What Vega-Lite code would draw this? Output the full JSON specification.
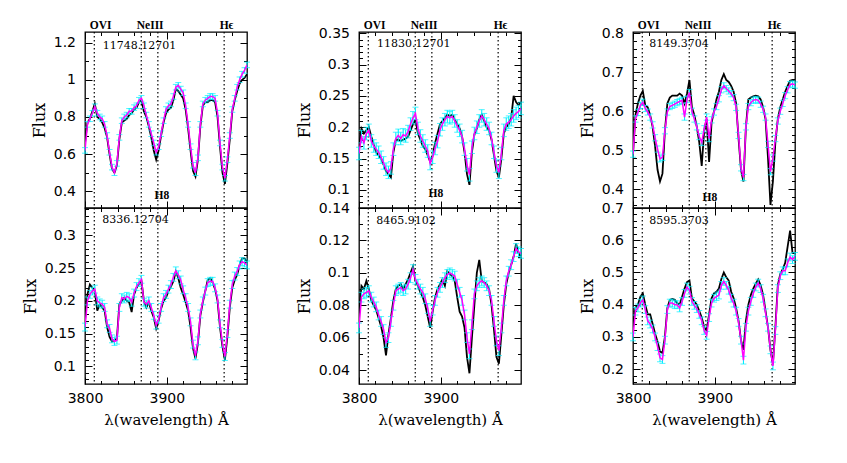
{
"$schema": "https://vega.github.io/schema/vega-lite/v6.json",
"background": "white",
"padding": {"left": 21, "top": 18, "right": 2, "bottom": 2},
"config": {
 "view": {"stroke": "black", "strokeWidth": 1.3},
 "axis": {"domain": false, "grid": false, "labelFlush": false, "labelOverlap": false, "tickColor": "black", "tickWidth": 1, "labelColor": "black", "labelFont": "DejaVu Sans", "labelFontSize": 14, "titleColor": "black", "titleFont": "DejaVu Serif", "titleFontSize": 16, "titleFontWeight": "normal"},
 "errorbar": {"ticks": {"size": 6, "strokeWidth": 1.2}, "rule": {"strokeWidth": 1.1}}
},
"datasets": {
 "lines": [{"w": 3811.35}, {"w": 3868.76}, {"w": 3889.05}, {"w": 3970.07}],
 "p1": [
{"w":3800,"m":0.62,"o":0.66,"e":0.015},{"w":3803,"m":0.76,"o":0.77,"e":0.015},{"w":3806,"m":0.79,"o":0.79,"e":0.015},{"w":3809,"m":0.82,"o":0.83,"e":0.015},{"w":3812,"m":0.855,"o":0.87,"e":0.015},{"w":3815,"m":0.82,"o":0.80,"e":0.015},{"w":3818,"m":0.80,"o":0.79,"e":0.015},{"w":3821,"m":0.79,"o":0.77,"e":0.015},{"w":3824,"m":0.76,"o":0.74,"e":0.015},{"w":3827,"m":0.70,"o":0.69,"e":0.015},{"w":3830,"m":0.61,"o":0.60,"e":0.015},{"w":3833,"m":0.53,"o":0.52,"e":0.015},{"w":3836,"m":0.50,"o":0.50,"e":0.015},{"w":3839,"m":0.55,"o":0.54,"e":0.015},{"w":3842,"m":0.69,"o":0.68,"e":0.015},{"w":3845,"m":0.78,"o":0.77,"e":0.015},{"w":3848,"m":0.80,"o":0.78,"e":0.015},{"w":3851,"m":0.81,"o":0.79,"e":0.015},{"w":3854,"m":0.83,"o":0.81,"e":0.015},{"w":3857,"m":0.83,"o":0.82,"e":0.015},{"w":3860,"m":0.85,"o":0.84,"e":0.015},{"w":3863,"m":0.86,"o":0.85,"e":0.015},{"w":3866,"m":0.89,"o":0.88,"e":0.015},{"w":3869,"m":0.90,"o":0.89,"e":0.015},{"w":3872,"m":0.86,"o":0.83,"e":0.015},{"w":3875,"m":0.81,"o":0.80,"e":0.015},{"w":3878,"m":0.76,"o":0.75,"e":0.015},{"w":3881,"m":0.71,"o":0.69,"e":0.015},{"w":3884,"m":0.66,"o":0.62,"e":0.015},{"w":3887,"m":0.61,"o":0.57,"e":0.015},{"w":3890,"m":0.64,"o":0.62,"e":0.015},{"w":3893,"m":0.71,"o":0.70,"e":0.015},{"w":3896,"m":0.78,"o":0.77,"e":0.015},{"w":3899,"m":0.84,"o":0.82,"e":0.015},{"w":3902,"m":0.86,"o":0.84,"e":0.015},{"w":3905,"m":0.87,"o":0.85,"e":0.015},{"w":3908,"m":0.91,"o":0.89,"e":0.015},{"w":3911,"m":0.96,"o":0.95,"e":0.015},{"w":3914,"m":0.97,"o":0.94,"e":0.015},{"w":3917,"m":0.95,"o":0.92,"e":0.015},{"w":3920,"m":0.93,"o":0.90,"e":0.015},{"w":3923,"m":0.86,"o":0.84,"e":0.015},{"w":3926,"m":0.76,"o":0.74,"e":0.015},{"w":3929,"m":0.64,"o":0.62,"e":0.015},{"w":3932,"m":0.54,"o":0.51,"e":0.015},{"w":3935,"m":0.50,"o":0.48,"e":0.015},{"w":3938,"m":0.58,"o":0.57,"e":0.015},{"w":3941,"m":0.76,"o":0.75,"e":0.015},{"w":3944,"m":0.87,"o":0.86,"e":0.015},{"w":3947,"m":0.89,"o":0.88,"e":0.015},{"w":3950,"m":0.90,"o":0.88,"e":0.015},{"w":3953,"m":0.91,"o":0.89,"e":0.015},{"w":3956,"m":0.91,"o":0.89,"e":0.015},{"w":3959,"m":0.90,"o":0.88,"e":0.015},{"w":3962,"m":0.82,"o":0.80,"e":0.015},{"w":3965,"m":0.66,"o":0.64,"e":0.015},{"w":3968,"m":0.53,"o":0.50,"e":0.015},{"w":3971,"m":0.47,"o":0.44,"e":0.015},{"w":3974,"m":0.57,"o":0.55,"e":0.015},{"w":3977,"m":0.70,"o":0.68,"e":0.015},{"w":3980,"m":0.84,"o":0.83,"e":0.015},{"w":3983,"m":0.90,"o":0.89,"e":0.015},{"w":3986,"m":0.96,"o":0.94,"e":0.015},{"w":3989,"m":1.00,"o":0.98,"e":0.015},{"w":3992,"m":1.03,"o":1.00,"e":0.015},{"w":3995,"m":1.05,"o":1.01,"e":0.015},{"w":3998,"m":1.08,"o":1.03,"e":0.015}
 ],
 "p4": [
{"w":3800,"m":0.16,"o":0.17,"e":0.006},{"w":3803,"m":0.20,"o":0.21,"e":0.006},{"w":3806,"m":0.21,"o":0.225,"e":0.006},{"w":3809,"m":0.215,"o":0.22,"e":0.006},{"w":3812,"m":0.218,"o":0.215,"e":0.006},{"w":3815,"m":0.20,"o":0.185,"e":0.006},{"w":3818,"m":0.197,"o":0.195,"e":0.006},{"w":3821,"m":0.195,"o":0.19,"e":0.006},{"w":3824,"m":0.19,"o":0.185,"e":0.006},{"w":3827,"m":0.165,"o":0.16,"e":0.006},{"w":3830,"m":0.158,"o":0.145,"e":0.006},{"w":3833,"m":0.142,"o":0.138,"e":0.006},{"w":3836,"m":0.138,"o":0.14,"e":0.006},{"w":3839,"m":0.14,"o":0.142,"e":0.006},{"w":3842,"m":0.19,"o":0.195,"e":0.006},{"w":3845,"m":0.205,"o":0.20,"e":0.006},{"w":3848,"m":0.203,"o":0.205,"e":0.006},{"w":3851,"m":0.207,"o":0.20,"e":0.006},{"w":3854,"m":0.205,"o":0.198,"e":0.006},{"w":3857,"m":0.198,"o":0.183,"e":0.006},{"w":3860,"m":0.212,"o":0.21,"e":0.006},{"w":3863,"m":0.222,"o":0.22,"e":0.006},{"w":3866,"m":0.228,"o":0.226,"e":0.006},{"w":3869,"m":0.233,"o":0.23,"e":0.006},{"w":3872,"m":0.198,"o":0.20,"e":0.006},{"w":3875,"m":0.195,"o":0.19,"e":0.006},{"w":3878,"m":0.20,"o":0.198,"e":0.006},{"w":3881,"m":0.19,"o":0.185,"e":0.006},{"w":3884,"m":0.178,"o":0.175,"e":0.006},{"w":3887,"m":0.163,"o":0.158,"e":0.006},{"w":3890,"m":0.172,"o":0.17,"e":0.006},{"w":3893,"m":0.19,"o":0.188,"e":0.006},{"w":3896,"m":0.205,"o":0.20,"e":0.006},{"w":3899,"m":0.21,"o":0.205,"e":0.006},{"w":3902,"m":0.218,"o":0.215,"e":0.006},{"w":3905,"m":0.225,"o":0.222,"e":0.006},{"w":3908,"m":0.236,"o":0.23,"e":0.006},{"w":3911,"m":0.246,"o":0.245,"e":0.006},{"w":3914,"m":0.24,"o":0.235,"e":0.006},{"w":3917,"m":0.232,"o":0.22,"e":0.006},{"w":3920,"m":0.217,"o":0.21,"e":0.006},{"w":3923,"m":0.205,"o":0.198,"e":0.006},{"w":3926,"m":0.19,"o":0.185,"e":0.006},{"w":3929,"m":0.168,"o":0.16,"e":0.006},{"w":3932,"m":0.134,"o":0.128,"e":0.006},{"w":3935,"m":0.116,"o":0.112,"e":0.006},{"w":3938,"m":0.139,"o":0.135,"e":0.006},{"w":3941,"m":0.18,"o":0.178,"e":0.006},{"w":3944,"m":0.20,"o":0.198,"e":0.006},{"w":3947,"m":0.215,"o":0.215,"e":0.006},{"w":3950,"m":0.228,"o":0.232,"e":0.006},{"w":3953,"m":0.23,"o":0.235,"e":0.006},{"w":3956,"m":0.23,"o":0.228,"e":0.006},{"w":3959,"m":0.22,"o":0.218,"e":0.006},{"w":3962,"m":0.203,"o":0.20,"e":0.006},{"w":3965,"m":0.165,"o":0.16,"e":0.006},{"w":3968,"m":0.135,"o":0.13,"e":0.006},{"w":3971,"m":0.115,"o":0.11,"e":0.006},{"w":3974,"m":0.15,"o":0.145,"e":0.006},{"w":3977,"m":0.195,"o":0.19,"e":0.006},{"w":3980,"m":0.225,"o":0.22,"e":0.006},{"w":3983,"m":0.238,"o":0.232,"e":0.006},{"w":3986,"m":0.245,"o":0.24,"e":0.006},{"w":3989,"m":0.255,"o":0.255,"e":0.006},{"w":3992,"m":0.26,"o":0.265,"e":0.006},{"w":3995,"m":0.258,"o":0.265,"e":0.006},{"w":3998,"m":0.255,"o":0.26,"e":0.006}
 ],
 "p2": [
{"w":3800,"m":0.158,"o":0.17,"e":0.01},{"w":3803,"m":0.185,"o":0.198,"e":0.01},{"w":3806,"m":0.175,"o":0.19,"e":0.01},{"w":3809,"m":0.19,"o":0.195,"e":0.01},{"w":3812,"m":0.195,"o":0.2,"e":0.01},{"w":3815,"m":0.178,"o":0.185,"e":0.01},{"w":3818,"m":0.17,"o":0.172,"e":0.01},{"w":3821,"m":0.165,"o":0.16,"e":0.01},{"w":3824,"m":0.16,"o":0.155,"e":0.01},{"w":3827,"m":0.152,"o":0.15,"e":0.01},{"w":3830,"m":0.143,"o":0.14,"e":0.01},{"w":3833,"m":0.133,"o":0.13,"e":0.01},{"w":3836,"m":0.128,"o":0.125,"e":0.01},{"w":3839,"m":0.135,"o":0.12,"e":0.01},{"w":3842,"m":0.165,"o":0.16,"e":0.01},{"w":3845,"m":0.182,"o":0.18,"e":0.01},{"w":3848,"m":0.187,"o":0.18,"e":0.01},{"w":3851,"m":0.182,"o":0.178,"e":0.01},{"w":3854,"m":0.188,"o":0.18,"e":0.01},{"w":3857,"m":0.186,"o":0.182,"e":0.01},{"w":3860,"m":0.193,"o":0.185,"e":0.01},{"w":3863,"m":0.205,"o":0.195,"e":0.01},{"w":3866,"m":0.215,"o":0.205,"e":0.01},{"w":3869,"m":0.222,"o":0.212,"e":0.01},{"w":3872,"m":0.198,"o":0.19,"e":0.01},{"w":3875,"m":0.186,"o":0.18,"e":0.01},{"w":3878,"m":0.178,"o":0.17,"e":0.01},{"w":3881,"m":0.17,"o":0.165,"e":0.01},{"w":3884,"m":0.162,"o":0.155,"e":0.01},{"w":3887,"m":0.142,"o":0.145,"e":0.01},{"w":3890,"m":0.152,"o":0.155,"e":0.01},{"w":3893,"m":0.166,"o":0.175,"e":0.01},{"w":3896,"m":0.177,"o":0.19,"e":0.01},{"w":3899,"m":0.196,"o":0.205,"e":0.01},{"w":3902,"m":0.205,"o":0.21,"e":0.01},{"w":3905,"m":0.212,"o":0.215,"e":0.01},{"w":3908,"m":0.217,"o":0.22,"e":0.01},{"w":3911,"m":0.215,"o":0.218,"e":0.01},{"w":3914,"m":0.217,"o":0.22,"e":0.01},{"w":3917,"m":0.21,"o":0.212,"e":0.01},{"w":3920,"m":0.202,"o":0.205,"e":0.01},{"w":3923,"m":0.195,"o":0.198,"e":0.01},{"w":3926,"m":0.185,"o":0.185,"e":0.01},{"w":3929,"m":0.165,"o":0.16,"e":0.01},{"w":3932,"m":0.14,"o":0.125,"e":0.01},{"w":3935,"m":0.124,"o":0.108,"e":0.01},{"w":3938,"m":0.168,"o":0.16,"e":0.01},{"w":3941,"m":0.19,"o":0.188,"e":0.01},{"w":3944,"m":0.2,"o":0.198,"e":0.01},{"w":3947,"m":0.21,"o":0.212,"e":0.01},{"w":3950,"m":0.218,"o":0.22,"e":0.01},{"w":3953,"m":0.212,"o":0.21,"e":0.01},{"w":3956,"m":0.205,"o":0.2,"e":0.01},{"w":3959,"m":0.198,"o":0.195,"e":0.01},{"w":3962,"m":0.182,"o":0.18,"e":0.01},{"w":3965,"m":0.16,"o":0.155,"e":0.01},{"w":3968,"m":0.138,"o":0.13,"e":0.01},{"w":3971,"m":0.128,"o":0.12,"e":0.01},{"w":3974,"m":0.158,"o":0.15,"e":0.01},{"w":3977,"m":0.195,"o":0.19,"e":0.01},{"w":3980,"m":0.205,"o":0.2,"e":0.01},{"w":3983,"m":0.208,"o":0.205,"e":0.01},{"w":3986,"m":0.212,"o":0.215,"e":0.01},{"w":3989,"m":0.218,"o":0.25,"e":0.01},{"w":3992,"m":0.222,"o":0.24,"e":0.01},{"w":3995,"m":0.225,"o":0.235,"e":0.01},{"w":3998,"m":0.23,"o":0.24,"e":0.01}
 ],
 "p5": [
{"w":3800,"m":0.066,"o":0.075,"e":0.003},{"w":3803,"m":0.085,"o":0.092,"e":0.003},{"w":3806,"m":0.087,"o":0.09,"e":0.003},{"w":3809,"m":0.088,"o":0.095,"e":0.003},{"w":3812,"m":0.089,"o":0.09,"e":0.003},{"w":3815,"m":0.085,"o":0.083,"e":0.003},{"w":3818,"m":0.082,"o":0.08,"e":0.003},{"w":3821,"m":0.079,"o":0.077,"e":0.003},{"w":3824,"m":0.074,"o":0.072,"e":0.003},{"w":3827,"m":0.07,"o":0.067,"e":0.003},{"w":3830,"m":0.065,"o":0.06,"e":0.003},{"w":3833,"m":0.057,"o":0.049,"e":0.003},{"w":3836,"m":0.06,"o":0.062,"e":0.003},{"w":3839,"m":0.07,"o":0.072,"e":0.003},{"w":3842,"m":0.08,"o":0.083,"e":0.003},{"w":3845,"m":0.089,"o":0.09,"e":0.003},{"w":3848,"m":0.09,"o":0.092,"e":0.003},{"w":3851,"m":0.091,"o":0.093,"e":0.003},{"w":3854,"m":0.089,"o":0.09,"e":0.003},{"w":3857,"m":0.09,"o":0.093,"e":0.003},{"w":3860,"m":0.093,"o":0.096,"e":0.003},{"w":3863,"m":0.097,"o":0.1,"e":0.003},{"w":3866,"m":0.102,"o":0.104,"e":0.003},{"w":3869,"m":0.096,"o":0.095,"e":0.003},{"w":3872,"m":0.093,"o":0.092,"e":0.003},{"w":3875,"m":0.09,"o":0.088,"e":0.003},{"w":3878,"m":0.088,"o":0.085,"e":0.003},{"w":3881,"m":0.084,"o":0.08,"e":0.003},{"w":3884,"m":0.078,"o":0.073,"e":0.003},{"w":3887,"m":0.07,"o":0.066,"e":0.003},{"w":3890,"m":0.077,"o":0.076,"e":0.003},{"w":3893,"m":0.083,"o":0.085,"e":0.003},{"w":3896,"m":0.088,"o":0.09,"e":0.003},{"w":3899,"m":0.091,"o":0.093,"e":0.003},{"w":3902,"m":0.094,"o":0.096,"e":0.003},{"w":3905,"m":0.097,"o":0.092,"e":0.003},{"w":3908,"m":0.099,"o":0.101,"e":0.003},{"w":3911,"m":0.1,"o":0.099,"e":0.003},{"w":3914,"m":0.099,"o":0.098,"e":0.003},{"w":3917,"m":0.098,"o":0.095,"e":0.003},{"w":3920,"m":0.093,"o":0.085,"e":0.003},{"w":3923,"m":0.088,"o":0.076,"e":0.003},{"w":3926,"m":0.083,"o":0.073,"e":0.003},{"w":3929,"m":0.074,"o":0.066,"e":0.003},{"w":3932,"m":0.06,"o":0.048,"e":0.003},{"w":3935,"m":0.05,"o":0.038,"e":0.003},{"w":3938,"m":0.068,"o":0.06,"e":0.003},{"w":3941,"m":0.087,"o":0.08,"e":0.003},{"w":3944,"m":0.092,"o":0.1,"e":0.003},{"w":3947,"m":0.094,"o":0.108,"e":0.003},{"w":3950,"m":0.095,"o":0.095,"e":0.003},{"w":3953,"m":0.094,"o":0.094,"e":0.003},{"w":3956,"m":0.092,"o":0.093,"e":0.003},{"w":3959,"m":0.089,"o":0.09,"e":0.003},{"w":3962,"m":0.083,"o":0.08,"e":0.003},{"w":3965,"m":0.07,"o":0.065,"e":0.003},{"w":3968,"m":0.058,"o":0.048,"e":0.003},{"w":3971,"m":0.052,"o":0.044,"e":0.003},{"w":3974,"m":0.066,"o":0.062,"e":0.003},{"w":3977,"m":0.083,"o":0.08,"e":0.003},{"w":3980,"m":0.095,"o":0.093,"e":0.003},{"w":3983,"m":0.101,"o":0.1,"e":0.003},{"w":3986,"m":0.105,"o":0.105,"e":0.003},{"w":3989,"m":0.11,"o":0.11,"e":0.003},{"w":3992,"m":0.115,"o":0.118,"e":0.003},{"w":3995,"m":0.113,"o":0.112,"e":0.003},{"w":3998,"m":0.112,"o":0.11,"e":0.003}
 ],
 "p3": [
{"w":3800,"m":0.49,"o":0.49,"e":0.008},{"w":3803,"m":0.58,"o":0.59,"e":0.008},{"w":3806,"m":0.597,"o":0.62,"e":0.008},{"w":3809,"m":0.615,"o":0.64,"e":0.008},{"w":3812,"m":0.623,"o":0.652,"e":0.008},{"w":3815,"m":0.607,"o":0.615,"e":0.008},{"w":3818,"m":0.598,"o":0.61,"e":0.008},{"w":3821,"m":0.585,"o":0.59,"e":0.008},{"w":3824,"m":0.565,"o":0.56,"e":0.008},{"w":3827,"m":0.532,"o":0.51,"e":0.008},{"w":3830,"m":0.503,"o":0.45,"e":0.008},{"w":3833,"m":0.478,"o":0.42,"e":0.008},{"w":3836,"m":0.482,"o":0.44,"e":0.008},{"w":3839,"m":0.55,"o":0.55,"e":0.008},{"w":3842,"m":0.598,"o":0.62,"e":0.008},{"w":3845,"m":0.612,"o":0.635,"e":0.008},{"w":3848,"m":0.615,"o":0.64,"e":0.008},{"w":3851,"m":0.618,"o":0.64,"e":0.008},{"w":3854,"m":0.622,"o":0.64,"e":0.008},{"w":3857,"m":0.625,"o":0.645,"e":0.008},{"w":3860,"m":0.628,"o":0.64,"e":0.008},{"w":3863,"m":0.585,"o":0.62,"e":0.008},{"w":3866,"m":0.63,"o":0.645,"e":0.008},{"w":3869,"m":0.648,"o":0.68,"e":0.008},{"w":3872,"m":0.6,"o":0.61,"e":0.008},{"w":3875,"m":0.58,"o":0.59,"e":0.008},{"w":3878,"m":0.56,"o":0.56,"e":0.008},{"w":3881,"m":0.535,"o":0.52,"e":0.008},{"w":3884,"m":0.52,"o":0.46,"e":0.008},{"w":3887,"m":0.555,"o":0.55,"e":0.008},{"w":3890,"m":0.585,"o":0.58,"e":0.008},{"w":3893,"m":0.53,"o":0.47,"e":0.008},{"w":3896,"m":0.578,"o":0.57,"e":0.008},{"w":3899,"m":0.598,"o":0.6,"e":0.008},{"w":3902,"m":0.612,"o":0.63,"e":0.008},{"w":3905,"m":0.632,"o":0.65,"e":0.008},{"w":3908,"m":0.655,"o":0.68,"e":0.008},{"w":3911,"m":0.665,"o":0.695,"e":0.008},{"w":3914,"m":0.658,"o":0.68,"e":0.008},{"w":3917,"m":0.652,"o":0.675,"e":0.008},{"w":3920,"m":0.645,"o":0.665,"e":0.008},{"w":3923,"m":0.635,"o":0.65,"e":0.008},{"w":3926,"m":0.61,"o":0.62,"e":0.008},{"w":3929,"m":0.538,"o":0.53,"e":0.008},{"w":3932,"m":0.455,"o":0.45,"e":0.008},{"w":3935,"m":0.43,"o":0.42,"e":0.008},{"w":3938,"m":0.56,"o":0.56,"e":0.008},{"w":3941,"m":0.612,"o":0.63,"e":0.008},{"w":3944,"m":0.622,"o":0.635,"e":0.008},{"w":3947,"m":0.628,"o":0.638,"e":0.008},{"w":3950,"m":0.63,"o":0.64,"e":0.008},{"w":3953,"m":0.628,"o":0.638,"e":0.008},{"w":3956,"m":0.618,"o":0.63,"e":0.008},{"w":3959,"m":0.605,"o":0.61,"e":0.008},{"w":3962,"m":0.585,"o":0.58,"e":0.008},{"w":3965,"m":0.515,"o":0.48,"e":0.008},{"w":3968,"m":0.445,"o":0.36,"e":0.008},{"w":3971,"m":0.48,"o":0.42,"e":0.008},{"w":3974,"m":0.53,"o":0.52,"e":0.008},{"w":3977,"m":0.575,"o":0.58,"e":0.008},{"w":3980,"m":0.6,"o":0.61,"e":0.008},{"w":3983,"m":0.62,"o":0.63,"e":0.008},{"w":3986,"m":0.64,"o":0.65,"e":0.008},{"w":3989,"m":0.655,"o":0.665,"e":0.008},{"w":3992,"m":0.668,"o":0.678,"e":0.008},{"w":3995,"m":0.67,"o":0.68,"e":0.008},{"w":3998,"m":0.667,"o":0.68,"e":0.008}
 ],
 "p6": [
{"w":3800,"m":0.30,"o":0.33,"e":0.012},{"w":3803,"m":0.38,"o":0.39,"e":0.012},{"w":3806,"m":0.39,"o":0.40,"e":0.012},{"w":3809,"m":0.405,"o":0.425,"e":0.012},{"w":3812,"m":0.415,"o":0.435,"e":0.012},{"w":3815,"m":0.385,"o":0.40,"e":0.012},{"w":3818,"m":0.35,"o":0.37,"e":0.012},{"w":3821,"m":0.34,"o":0.37,"e":0.012},{"w":3824,"m":0.325,"o":0.34,"e":0.012},{"w":3827,"m":0.30,"o":0.31,"e":0.012},{"w":3830,"m":0.27,"o":0.285,"e":0.012},{"w":3833,"m":0.235,"o":0.255,"e":0.012},{"w":3836,"m":0.23,"o":0.25,"e":0.012},{"w":3839,"m":0.29,"o":0.30,"e":0.012},{"w":3842,"m":0.385,"o":0.39,"e":0.012},{"w":3845,"m":0.405,"o":0.415,"e":0.012},{"w":3848,"m":0.405,"o":0.418,"e":0.012},{"w":3851,"m":0.40,"o":0.415,"e":0.012},{"w":3854,"m":0.40,"o":0.405,"e":0.012},{"w":3857,"m":0.39,"o":0.40,"e":0.012},{"w":3860,"m":0.41,"o":0.425,"e":0.012},{"w":3863,"m":0.435,"o":0.45,"e":0.012},{"w":3866,"m":0.455,"o":0.47,"e":0.012},{"w":3869,"m":0.445,"o":0.475,"e":0.012},{"w":3872,"m":0.41,"o":0.42,"e":0.012},{"w":3875,"m":0.398,"o":0.41,"e":0.012},{"w":3878,"m":0.388,"o":0.40,"e":0.012},{"w":3881,"m":0.37,"o":0.38,"e":0.012},{"w":3884,"m":0.35,"o":0.36,"e":0.012},{"w":3887,"m":0.32,"o":0.33,"e":0.012},{"w":3890,"m":0.305,"o":0.32,"e":0.012},{"w":3893,"m":0.36,"o":0.37,"e":0.012},{"w":3896,"m":0.405,"o":0.42,"e":0.012},{"w":3899,"m":0.42,"o":0.435,"e":0.012},{"w":3902,"m":0.425,"o":0.44,"e":0.012},{"w":3905,"m":0.43,"o":0.45,"e":0.012},{"w":3908,"m":0.46,"o":0.48,"e":0.012},{"w":3911,"m":0.472,"o":0.50,"e":0.012},{"w":3914,"m":0.46,"o":0.485,"e":0.012},{"w":3917,"m":0.445,"o":0.475,"e":0.012},{"w":3920,"m":0.42,"o":0.44,"e":0.012},{"w":3923,"m":0.405,"o":0.42,"e":0.012},{"w":3926,"m":0.38,"o":0.39,"e":0.012},{"w":3929,"m":0.345,"o":0.35,"e":0.012},{"w":3932,"m":0.29,"o":0.29,"e":0.012},{"w":3935,"m":0.228,"o":0.26,"e":0.012},{"w":3938,"m":0.33,"o":0.35,"e":0.012},{"w":3941,"m":0.38,"o":0.40,"e":0.012},{"w":3944,"m":0.41,"o":0.43,"e":0.012},{"w":3947,"m":0.435,"o":0.45,"e":0.012},{"w":3950,"m":0.455,"o":0.465,"e":0.012},{"w":3953,"m":0.467,"o":0.478,"e":0.012},{"w":3956,"m":0.45,"o":0.46,"e":0.012},{"w":3959,"m":0.42,"o":0.43,"e":0.012},{"w":3962,"m":0.375,"o":0.38,"e":0.012},{"w":3965,"m":0.33,"o":0.33,"e":0.012},{"w":3968,"m":0.26,"o":0.26,"e":0.012},{"w":3971,"m":0.21,"o":0.215,"e":0.012},{"w":3974,"m":0.32,"o":0.33,"e":0.012},{"w":3977,"m":0.45,"o":0.46,"e":0.012},{"w":3980,"m":0.49,"o":0.495,"e":0.012},{"w":3983,"m":0.505,"o":0.51,"e":0.012},{"w":3986,"m":0.505,"o":0.53,"e":0.012},{"w":3989,"m":0.53,"o":0.58,"e":0.012},{"w":3992,"m":0.548,"o":0.63,"e":0.012},{"w":3995,"m":0.54,"o":0.56,"e":0.012},{"w":3998,"m":0.55,"o":0.56,"e":0.012}
 ]
},
"columns": 3,
"spacing": {"row": 0, "column": 112},
"bounds": "flush",
"concat": [
  {"width": 162, "height": 176, "resolve": {"axis": {"x": "independent", "y": "independent"}}, "layer": [
   {"data": {"name": "lines"}, "mark": {"type": "rule", "color": "black", "strokeWidth": 1.2, "strokeDash": [1.5, 2.5]},
    "encoding": {"x": {"field": "w", "type": "quantitative", "scale": {"domain": [3800, 3998], "nice": false, "zero": false}, "axis": {"orient": "top", "values": [3811.35, 3868.76, 3970.07], "ticks": false, "labelExpr": "datum.value < 3830 ? 'OVI' : (datum.value < 3900 ? 'NeIII' : 'Hϵ')", "labelAlign": "left", "labelOffset": -5, "labelPadding": 2, "labelFont": "Liberation Serif", "labelFontWeight": "bold", "labelFontSize": 11.5, "title": null}}}},
   {"data": {"name": "p1"}, "mark": {"type": "line", "color": "black", "strokeWidth": 1.8, "clip": true},
    "encoding": {"x": {"field": "w", "type": "quantitative", "scale": {"domain": [3800, 3998], "nice": false, "zero": false}, "axis": {"orient": "bottom", "values": [3800,3820,3840,3860,3880,3900,3920,3940,3960,3980], "tickSize": {"condition": {"test": "datum.value % 100 === 0", "value": -7}, "value": -3.5}, "labels": false, "title": null}},
     "y": {"field": "o", "type": "quantitative", "scale": {"domain": [0.31, 1.257], "nice": false, "zero": false}, "axis": {"orient": "left", "values": [0.4,0.5,0.6,0.7,0.8,0.9,1,1.1,1.2], "tickSize": {"condition": {"test": "abs(datum.value*5-round(datum.value*5))<0.01", "value": -7}, "value": -3.5}, "labelExpr": "abs(datum.value*5-round(datum.value*5))<0.01 ? format(datum.value,'~g') : ''", "labelPadding": 16.5, "title": "Flux", "titlePadding": 6}}}},
   {"data": {"name": "p1"}, "mark": {"type": "errorbar", "color": "#00f0ff"},
    "encoding": {"x": {"field": "w", "type": "quantitative", "scale": {"domain": [3800, 3998], "nice": false, "zero": false}, "axis": null}, "y": {"field": "m", "type": "quantitative", "scale": {"domain": [0.31, 1.257], "nice": false, "zero": false}, "axis": null}, "yError": {"field": "e"}}},
   {"data": {"name": "p1"}, "mark": {"type": "line", "color": "#ff00ff", "strokeWidth": 1.5, "clip": true},
    "encoding": {"x": {"field": "w", "type": "quantitative", "scale": {"domain": [3800, 3998], "nice": false, "zero": false}, "axis": {"orient": "top", "values": [3800,3820,3840,3860,3880,3900,3920,3940,3960,3980], "tickSize": {"condition": {"test": "datum.value % 100 === 0", "value": -7}, "value": -3.5}, "labels": false, "title": null}},
     "y": {"field": "m", "type": "quantitative", "scale": {"domain": [0.31, 1.257], "nice": false, "zero": false}, "axis": {"orient": "right", "values": [0.4,0.5,0.6,0.7,0.8,0.9,1,1.1,1.2], "tickSize": {"condition": {"test": "abs(datum.value*5-round(datum.value*5))<0.01", "value": -7}, "value": -3.5}, "labels": false, "title": null}}}},
   {"data": {"values": [{"w": 3821.7, "y": 1.182, "t": "11748.12701"}]}, "mark": {"type": "text", "align": "left", "baseline": "middle", "font": "DejaVu Serif", "fontSize": 11, "color": "black"},
    "encoding": {"x": {"field": "w", "type": "quantitative", "scale": {"domain": [3800, 3998], "nice": false, "zero": false}, "axis": null}, "y": {"field": "y", "type": "quantitative", "scale": {"domain": [0.31, 1.257], "nice": false, "zero": false}, "axis": null}, "text": {"field": "t"}}},
   {"data": {"values": [{"w": 3894, "y": 0.373, "t": "H8"}]}, "mark": {"type": "text", "align": "center", "baseline": "middle", "font": "Liberation Serif", "fontWeight": "bold", "fontSize": 11.5, "color": "black"},
    "encoding": {"x": {"field": "w", "type": "quantitative", "scale": {"domain": [3800, 3998], "nice": false, "zero": false}, "axis": null}, "y": {"field": "y", "type": "quantitative", "scale": {"domain": [0.31, 1.257], "nice": false, "zero": false}, "axis": null}, "text": {"field": "t"}}}
  ]},
  {"width": 162, "height": 176, "resolve": {"axis": {"x": "independent", "y": "independent"}}, "layer": [
   {"data": {"name": "lines"}, "mark": {"type": "rule", "color": "black", "strokeWidth": 1.2, "strokeDash": [1.5, 2.5]},
    "encoding": {"x": {"field": "w", "type": "quantitative", "scale": {"domain": [3800, 3998], "nice": false, "zero": false}, "axis": {"orient": "top", "values": [3811.35, 3868.76, 3970.07], "ticks": false, "labelExpr": "datum.value < 3830 ? 'OVI' : (datum.value < 3900 ? 'NeIII' : 'Hϵ')", "labelAlign": "left", "labelOffset": -5, "labelPadding": 2, "labelFont": "Liberation Serif", "labelFontWeight": "bold", "labelFontSize": 11.5, "title": null}}}},
   {"data": {"name": "p2"}, "mark": {"type": "line", "color": "black", "strokeWidth": 1.8, "clip": true},
    "encoding": {"x": {"field": "w", "type": "quantitative", "scale": {"domain": [3800, 3998], "nice": false, "zero": false}, "axis": {"orient": "bottom", "values": [3800,3820,3840,3860,3880,3900,3920,3940,3960,3980], "tickSize": {"condition": {"test": "datum.value % 100 === 0", "value": -7}, "value": -3.5}, "labels": false, "title": null}},
     "y": {"field": "o", "type": "quantitative", "scale": {"domain": [0.071, 0.352], "nice": false, "zero": false}, "axis": {"orient": "left", "values": [0.08,0.09,0.1,0.11,0.12,0.13,0.14,0.15,0.16,0.17,0.18,0.19,0.2,0.21,0.22,0.23,0.24,0.25,0.26,0.27,0.28,0.29,0.3,0.31,0.32,0.33,0.34,0.35], "tickSize": {"condition": {"test": "abs(datum.value*20-round(datum.value*20))<0.01", "value": -7}, "value": -3.5}, "labelExpr": "abs(datum.value*20-round(datum.value*20))<0.01 ? format(datum.value,'~g') : ''", "labelPadding": 16.5, "title": "Flux", "titlePadding": 6}}}},
   {"data": {"name": "p2"}, "mark": {"type": "errorbar", "color": "#00f0ff"},
    "encoding": {"x": {"field": "w", "type": "quantitative", "scale": {"domain": [3800, 3998], "nice": false, "zero": false}, "axis": null}, "y": {"field": "m", "type": "quantitative", "scale": {"domain": [0.071, 0.352], "nice": false, "zero": false}, "axis": null}, "yError": {"field": "e"}}},
   {"data": {"name": "p2"}, "mark": {"type": "line", "color": "#ff00ff", "strokeWidth": 1.5, "clip": true},
    "encoding": {"x": {"field": "w", "type": "quantitative", "scale": {"domain": [3800, 3998], "nice": false, "zero": false}, "axis": {"orient": "top", "values": [3800,3820,3840,3860,3880,3900,3920,3940,3960,3980], "tickSize": {"condition": {"test": "datum.value % 100 === 0", "value": -7}, "value": -3.5}, "labels": false, "title": null}},
     "y": {"field": "m", "type": "quantitative", "scale": {"domain": [0.071, 0.352], "nice": false, "zero": false}, "axis": {"orient": "right", "values": [0.08,0.09,0.1,0.11,0.12,0.13,0.14,0.15,0.16,0.17,0.18,0.19,0.2,0.21,0.22,0.23,0.24,0.25,0.26,0.27,0.28,0.29,0.3,0.31,0.32,0.33,0.34,0.35], "tickSize": {"condition": {"test": "abs(datum.value*20-round(datum.value*20))<0.01", "value": -7}, "value": -3.5}, "labels": false, "title": null}}}},
   {"data": {"values": [{"w": 3822, "y": 0.3325, "t": "11830.12701"}]}, "mark": {"type": "text", "align": "left", "baseline": "middle", "font": "DejaVu Serif", "fontSize": 11, "color": "black"},
    "encoding": {"x": {"field": "w", "type": "quantitative", "scale": {"domain": [3800, 3998], "nice": false, "zero": false}, "axis": null}, "y": {"field": "y", "type": "quantitative", "scale": {"domain": [0.071, 0.352], "nice": false, "zero": false}, "axis": null}, "text": {"field": "t"}}},
   {"data": {"values": [{"w": 3894, "y": 0.0936, "t": "H8"}]}, "mark": {"type": "text", "align": "center", "baseline": "middle", "font": "Liberation Serif", "fontWeight": "bold", "fontSize": 11.5, "color": "black"},
    "encoding": {"x": {"field": "w", "type": "quantitative", "scale": {"domain": [3800, 3998], "nice": false, "zero": false}, "axis": null}, "y": {"field": "y", "type": "quantitative", "scale": {"domain": [0.071, 0.352], "nice": false, "zero": false}, "axis": null}, "text": {"field": "t"}}}
  ]},
  {"width": 162, "height": 176, "resolve": {"axis": {"x": "independent", "y": "independent"}}, "layer": [
   {"data": {"name": "lines"}, "mark": {"type": "rule", "color": "black", "strokeWidth": 1.2, "strokeDash": [1.5, 2.5]},
    "encoding": {"x": {"field": "w", "type": "quantitative", "scale": {"domain": [3800, 3998], "nice": false, "zero": false}, "axis": {"orient": "top", "values": [3811.35, 3868.76, 3970.07], "ticks": false, "labelExpr": "datum.value < 3830 ? 'OVI' : (datum.value < 3900 ? 'NeIII' : 'Hϵ')", "labelAlign": "left", "labelOffset": -5, "labelPadding": 2, "labelFont": "Liberation Serif", "labelFontWeight": "bold", "labelFontSize": 11.5, "title": null}}}},
   {"data": {"name": "p3"}, "mark": {"type": "line", "color": "black", "strokeWidth": 1.8, "clip": true},
    "encoding": {"x": {"field": "w", "type": "quantitative", "scale": {"domain": [3800, 3998], "nice": false, "zero": false}, "axis": {"orient": "bottom", "values": [3800,3820,3840,3860,3880,3900,3920,3940,3960,3980], "tickSize": {"condition": {"test": "datum.value % 100 === 0", "value": -7}, "value": -3.5}, "labels": false, "title": null}},
     "y": {"field": "o", "type": "quantitative", "scale": {"domain": [0.352, 0.803], "nice": false, "zero": false}, "axis": {"orient": "left", "values": [0.36,0.38,0.4,0.42,0.44,0.46,0.48,0.5,0.52,0.54,0.56,0.58,0.6,0.62,0.64,0.66,0.68,0.7,0.72,0.74,0.76,0.78,0.8], "tickSize": {"condition": {"test": "abs(datum.value*10-round(datum.value*10))<0.01", "value": -7}, "value": -3.5}, "labelExpr": "abs(datum.value*10-round(datum.value*10))<0.01 ? format(datum.value,'~g') : ''", "labelPadding": 16.5, "title": "Flux", "titlePadding": 6}}}},
   {"data": {"name": "p3"}, "mark": {"type": "errorbar", "color": "#00f0ff"},
    "encoding": {"x": {"field": "w", "type": "quantitative", "scale": {"domain": [3800, 3998], "nice": false, "zero": false}, "axis": null}, "y": {"field": "m", "type": "quantitative", "scale": {"domain": [0.352, 0.803], "nice": false, "zero": false}, "axis": null}, "yError": {"field": "e"}}},
   {"data": {"name": "p3"}, "mark": {"type": "line", "color": "#ff00ff", "strokeWidth": 1.5, "clip": true},
    "encoding": {"x": {"field": "w", "type": "quantitative", "scale": {"domain": [3800, 3998], "nice": false, "zero": false}, "axis": {"orient": "top", "values": [3800,3820,3840,3860,3880,3900,3920,3940,3960,3980], "tickSize": {"condition": {"test": "datum.value % 100 === 0", "value": -7}, "value": -3.5}, "labels": false, "title": null}},
     "y": {"field": "m", "type": "quantitative", "scale": {"domain": [0.352, 0.803], "nice": false, "zero": false}, "axis": {"orient": "right", "values": [0.36,0.38,0.4,0.42,0.44,0.46,0.48,0.5,0.52,0.54,0.56,0.58,0.6,0.62,0.64,0.66,0.68,0.7,0.72,0.74,0.76,0.78,0.8], "tickSize": {"condition": {"test": "abs(datum.value*10-round(datum.value*10))<0.01", "value": -7}, "value": -3.5}, "labels": false, "title": null}}}},
   {"data": {"values": [{"w": 3820, "y": 0.772, "t": "8149.3704"}]}, "mark": {"type": "text", "align": "left", "baseline": "middle", "font": "DejaVu Serif", "fontSize": 11, "color": "black"},
    "encoding": {"x": {"field": "w", "type": "quantitative", "scale": {"domain": [3800, 3998], "nice": false, "zero": false}, "axis": null}, "y": {"field": "y", "type": "quantitative", "scale": {"domain": [0.352, 0.803], "nice": false, "zero": false}, "axis": null}, "text": {"field": "t"}}},
   {"data": {"values": [{"w": 3894, "y": 0.378, "t": "H8"}]}, "mark": {"type": "text", "align": "center", "baseline": "middle", "font": "Liberation Serif", "fontWeight": "bold", "fontSize": 11.5, "color": "black"},
    "encoding": {"x": {"field": "w", "type": "quantitative", "scale": {"domain": [3800, 3998], "nice": false, "zero": false}, "axis": null}, "y": {"field": "y", "type": "quantitative", "scale": {"domain": [0.352, 0.803], "nice": false, "zero": false}, "axis": null}, "text": {"field": "t"}}}
  ]},
  {"width": 162, "height": 176, "resolve": {"axis": {"x": "independent", "y": "independent"}}, "layer": [
   {"data": {"name": "lines"}, "mark": {"type": "rule", "color": "black", "strokeWidth": 1.2, "strokeDash": [1.5, 2.5]},
    "encoding": {"x": {"field": "w", "type": "quantitative", "scale": {"domain": [3800, 3998], "nice": false, "zero": false}, "axis": null}}},
   {"data": {"name": "p4"}, "mark": {"type": "line", "color": "black", "strokeWidth": 1.8, "clip": true},
    "encoding": {"x": {"field": "w", "type": "quantitative", "scale": {"domain": [3800, 3998], "nice": false, "zero": false}, "axis": {"orient": "bottom", "values": [3800,3820,3840,3860,3880,3900,3920,3940,3960,3980], "tickSize": {"condition": {"test": "datum.value % 100 === 0", "value": -7}, "value": -3.5}, "labelExpr": "datum.value % 100 === 0 ? format(datum.value,'d') : ''", "labelPadding": 14, "title": "λ(wavelength) Å", "titleFontSize": 15, "titlePadding": 4}},
     "y": {"field": "o", "type": "quantitative", "scale": {"domain": [0.073, 0.342], "nice": false, "zero": false}, "axis": {"orient": "left", "values": [0.08,0.09,0.1,0.11,0.12,0.13,0.14,0.15,0.16,0.17,0.18,0.19,0.2,0.21,0.22,0.23,0.24,0.25,0.26,0.27,0.28,0.29,0.3,0.31,0.32,0.33,0.34], "tickSize": {"condition": {"test": "abs(datum.value*20-round(datum.value*20))<0.01", "value": -7}, "value": -3.5}, "labelExpr": "abs(datum.value*20-round(datum.value*20))<0.01 ? format(datum.value,'~g') : ''", "labelPadding": 16.5, "title": "Flux", "titlePadding": 6}}}},
   {"data": {"name": "p4"}, "mark": {"type": "errorbar", "color": "#00f0ff"},
    "encoding": {"x": {"field": "w", "type": "quantitative", "scale": {"domain": [3800, 3998], "nice": false, "zero": false}, "axis": null}, "y": {"field": "m", "type": "quantitative", "scale": {"domain": [0.073, 0.342], "nice": false, "zero": false}, "axis": null}, "yError": {"field": "e"}}},
   {"data": {"name": "p4"}, "mark": {"type": "line", "color": "#ff00ff", "strokeWidth": 1.5, "clip": true},
    "encoding": {"x": {"field": "w", "type": "quantitative", "scale": {"domain": [3800, 3998], "nice": false, "zero": false}, "axis": {"orient": "top", "values": [3800,3820,3840,3860,3880,3900,3920,3940,3960,3980], "tickSize": {"condition": {"test": "datum.value % 100 === 0", "value": -7}, "value": -3.5}, "labels": false, "title": null}},
     "y": {"field": "m", "type": "quantitative", "scale": {"domain": [0.073, 0.342], "nice": false, "zero": false}, "axis": {"orient": "right", "values": [0.08,0.09,0.1,0.11,0.12,0.13,0.14,0.15,0.16,0.17,0.18,0.19,0.2,0.21,0.22,0.23,0.24,0.25,0.26,0.27,0.28,0.29,0.3,0.31,0.32,0.33,0.34], "tickSize": {"condition": {"test": "abs(datum.value*20-round(datum.value*20))<0.01", "value": -7}, "value": -3.5}, "labels": false, "title": null}}}},
   {"data": {"values": [{"w": 3821, "y": 0.324, "t": "8336.12704"}]}, "mark": {"type": "text", "align": "left", "baseline": "middle", "font": "DejaVu Serif", "fontSize": 11, "color": "black"},
    "encoding": {"x": {"field": "w", "type": "quantitative", "scale": {"domain": [3800, 3998], "nice": false, "zero": false}, "axis": null}, "y": {"field": "y", "type": "quantitative", "scale": {"domain": [0.073, 0.342], "nice": false, "zero": false}, "axis": null}, "text": {"field": "t"}}}
  ]},
  {"width": 162, "height": 176, "resolve": {"axis": {"x": "independent", "y": "independent"}}, "layer": [
   {"data": {"name": "lines"}, "mark": {"type": "rule", "color": "black", "strokeWidth": 1.2, "strokeDash": [1.5, 2.5]},
    "encoding": {"x": {"field": "w", "type": "quantitative", "scale": {"domain": [3800, 3998], "nice": false, "zero": false}, "axis": null}}},
   {"data": {"name": "p5"}, "mark": {"type": "line", "color": "black", "strokeWidth": 1.8, "clip": true},
    "encoding": {"x": {"field": "w", "type": "quantitative", "scale": {"domain": [3800, 3998], "nice": false, "zero": false}, "axis": {"orient": "bottom", "values": [3800,3820,3840,3860,3880,3900,3920,3940,3960,3980], "tickSize": {"condition": {"test": "datum.value % 100 === 0", "value": -7}, "value": -3.5}, "labelExpr": "datum.value % 100 === 0 ? format(datum.value,'d') : ''", "labelPadding": 14, "title": "λ(wavelength) Å", "titleFontSize": 15, "titlePadding": 4}},
     "y": {"field": "o", "type": "quantitative", "scale": {"domain": [0.0314, 0.14], "nice": false, "zero": false}, "axis": {"orient": "left", "values": [0.04,0.05,0.06,0.07,0.08,0.09,0.1,0.11,0.12,0.13,0.14], "tickSize": {"condition": {"test": "abs(datum.value*50-round(datum.value*50))<0.01", "value": -7}, "value": -3.5}, "labelExpr": "abs(datum.value*50-round(datum.value*50))<0.01 ? format(datum.value,'~g') : ''", "labelPadding": 16.5, "title": "Flux", "titlePadding": 6}}}},
   {"data": {"name": "p5"}, "mark": {"type": "errorbar", "color": "#00f0ff"},
    "encoding": {"x": {"field": "w", "type": "quantitative", "scale": {"domain": [3800, 3998], "nice": false, "zero": false}, "axis": null}, "y": {"field": "m", "type": "quantitative", "scale": {"domain": [0.0314, 0.14], "nice": false, "zero": false}, "axis": null}, "yError": {"field": "e"}}},
   {"data": {"name": "p5"}, "mark": {"type": "line", "color": "#ff00ff", "strokeWidth": 1.5, "clip": true},
    "encoding": {"x": {"field": "w", "type": "quantitative", "scale": {"domain": [3800, 3998], "nice": false, "zero": false}, "axis": {"orient": "top", "values": [3800,3820,3840,3860,3880,3900,3920,3940,3960,3980], "tickSize": {"condition": {"test": "datum.value % 100 === 0", "value": -7}, "value": -3.5}, "labels": false, "title": null}},
     "y": {"field": "m", "type": "quantitative", "scale": {"domain": [0.0314, 0.14], "nice": false, "zero": false}, "axis": {"orient": "right", "values": [0.04,0.05,0.06,0.07,0.08,0.09,0.1,0.11,0.12,0.13,0.14], "tickSize": {"condition": {"test": "abs(datum.value*50-round(datum.value*50))<0.01", "value": -7}, "value": -3.5}, "labels": false, "title": null}}}},
   {"data": {"values": [{"w": 3821, "y": 0.132, "t": "8465.9102"}]}, "mark": {"type": "text", "align": "left", "baseline": "middle", "font": "DejaVu Serif", "fontSize": 11, "color": "black"},
    "encoding": {"x": {"field": "w", "type": "quantitative", "scale": {"domain": [3800, 3998], "nice": false, "zero": false}, "axis": null}, "y": {"field": "y", "type": "quantitative", "scale": {"domain": [0.0314, 0.14], "nice": false, "zero": false}, "axis": null}, "text": {"field": "t"}}}
  ]},
  {"width": 162, "height": 176, "resolve": {"axis": {"x": "independent", "y": "independent"}}, "layer": [
   {"data": {"name": "lines"}, "mark": {"type": "rule", "color": "black", "strokeWidth": 1.2, "strokeDash": [1.5, 2.5]},
    "encoding": {"x": {"field": "w", "type": "quantitative", "scale": {"domain": [3800, 3998], "nice": false, "zero": false}, "axis": null}}},
   {"data": {"name": "p6"}, "mark": {"type": "line", "color": "black", "strokeWidth": 1.8, "clip": true},
    "encoding": {"x": {"field": "w", "type": "quantitative", "scale": {"domain": [3800, 3998], "nice": false, "zero": false}, "axis": {"orient": "bottom", "values": [3800,3820,3840,3860,3880,3900,3920,3940,3960,3980], "tickSize": {"condition": {"test": "datum.value % 100 === 0", "value": -7}, "value": -3.5}, "labelExpr": "datum.value % 100 === 0 ? format(datum.value,'d') : ''", "labelPadding": 14, "title": "λ(wavelength) Å", "titleFontSize": 15, "titlePadding": 4}},
     "y": {"field": "o", "type": "quantitative", "scale": {"domain": [0.154, 0.7], "nice": false, "zero": false}, "axis": {"orient": "left", "values": [0.16,0.18,0.2,0.22,0.24,0.26,0.28,0.3,0.32,0.34,0.36,0.38,0.4,0.42,0.44,0.46,0.48,0.5,0.52,0.54,0.56,0.58,0.6,0.62,0.64,0.66,0.68,0.7], "tickSize": {"condition": {"test": "abs(datum.value*10-round(datum.value*10))<0.01", "value": -7}, "value": -3.5}, "labelExpr": "abs(datum.value*10-round(datum.value*10))<0.01 ? format(datum.value,'~g') : ''", "labelPadding": 16.5, "title": "Flux", "titlePadding": 6}}}},
   {"data": {"name": "p6"}, "mark": {"type": "errorbar", "color": "#00f0ff"},
    "encoding": {"x": {"field": "w", "type": "quantitative", "scale": {"domain": [3800, 3998], "nice": false, "zero": false}, "axis": null}, "y": {"field": "m", "type": "quantitative", "scale": {"domain": [0.154, 0.7], "nice": false, "zero": false}, "axis": null}, "yError": {"field": "e"}}},
   {"data": {"name": "p6"}, "mark": {"type": "line", "color": "#ff00ff", "strokeWidth": 1.5, "clip": true},
    "encoding": {"x": {"field": "w", "type": "quantitative", "scale": {"domain": [3800, 3998], "nice": false, "zero": false}, "axis": {"orient": "top", "values": [3800,3820,3840,3860,3880,3900,3920,3940,3960,3980], "tickSize": {"condition": {"test": "datum.value % 100 === 0", "value": -7}, "value": -3.5}, "labels": false, "title": null}},
     "y": {"field": "m", "type": "quantitative", "scale": {"domain": [0.154, 0.7], "nice": false, "zero": false}, "axis": {"orient": "right", "values": [0.16,0.18,0.2,0.22,0.24,0.26,0.28,0.3,0.32,0.34,0.36,0.38,0.4,0.42,0.44,0.46,0.48,0.5,0.52,0.54,0.56,0.58,0.6,0.62,0.64,0.66,0.68,0.7], "tickSize": {"condition": {"test": "abs(datum.value*10-round(datum.value*10))<0.01", "value": -7}, "value": -3.5}, "labels": false, "title": null}}}},
   {"data": {"values": [{"w": 3820, "y": 0.659, "t": "8595.3703"}]}, "mark": {"type": "text", "align": "left", "baseline": "middle", "font": "DejaVu Serif", "fontSize": 11, "color": "black"},
    "encoding": {"x": {"field": "w", "type": "quantitative", "scale": {"domain": [3800, 3998], "nice": false, "zero": false}, "axis": null}, "y": {"field": "y", "type": "quantitative", "scale": {"domain": [0.154, 0.7], "nice": false, "zero": false}, "axis": null}, "text": {"field": "t"}}}
  ]}
]
}
